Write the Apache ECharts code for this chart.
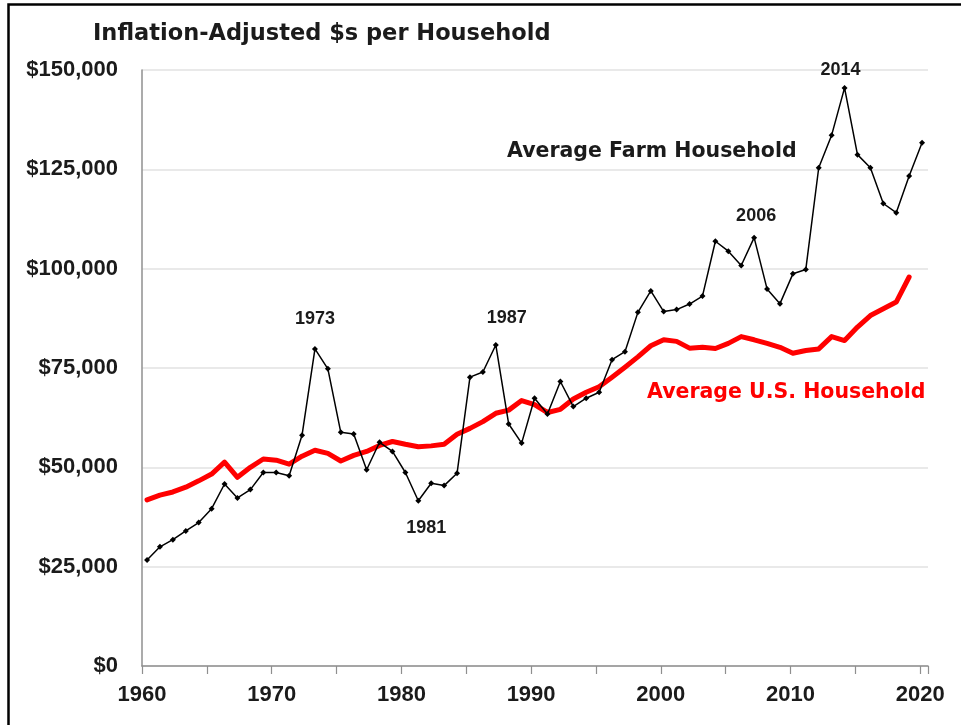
<!DOCTYPE html>
<html>
<head>
<meta charset="utf-8">
<script src="https://cdn.jsdelivr.net/npm/echarts@6/dist/echarts.min.js"></script>
<style>
  html, body { margin: 0; padding: 0; background: #ffffff; }
  #chart { width: 961px; height: 725px; }
</style>
</head>
<body>
<div id="chart"></div>
<script>
// ---- Data ----
const years = [1960,1961,1962,1963,1964,1965,1966,1967,1968,1969,
               1970,1971,1972,1973,1974,1975,1976,1977,1978,1979,
               1980,1981,1982,1983,1984,1985,1986,1987,1988,1989,
               1990,1991,1992,1993,1994,1995,1996,1997,1998,1999,
               2000,2001,2002,2003,2004,2005,2006,2007,2008,2009,
               2010,2011,2012,2013,2014,2015,2016,2017,2018,2019,
               2020];
const farmHousehold = [26700,30000,31800,34000,36100,39600,45800,42300,44400,48700,
                       48700,47900,58100,79800,74800,58800,58400,49400,56300,54000,
                       48700,41600,46000,45400,48500,72700,74000,80800,60900,56100,
                       67400,63400,71600,65300,67400,68900,77100,79100,89000,94400,
                       89200,89700,91100,93100,106900,104400,100800,107800,94900,91200,
                       98700,99800,125400,133600,145500,128700,125400,116400,114100,123300,
                       131700];
const usHousehold = [41800,43000,43800,45000,46600,48300,51300,47500,50000,52100,
                     51800,50800,52800,54300,53500,51600,53000,54000,55500,56500,
                     55800,55200,55400,55800,58300,59800,61500,63600,64400,66800,
                     65800,63800,64600,67200,68900,70300,72700,75200,77800,80600,
                     82100,81700,80000,80200,79900,81200,82900,82100,81200,80200,
                     78700,79400,79800,82900,81900,85300,88200,89900,91600,97900];
const yTicks = [0,25000,50000,75000,100000,125000,150000];
const xTickLabels = [1960,1970,1980,1990,2000,2010,2020];
const annotations = [
  {year:1973, text:'1973'},
  {year:1981, text:'1981'},
  {year:1987, text:'1987'},
  {year:2007, text:'2006'},
  {year:2014, text:'2014'}
];
const titleText = 'Inflation-Adjusted $s per Household';
const farmName = 'Average Farm Household';
const usName = 'Average U.S. Household';

// ---- Styles (kept apart from data) ----
const annoStyle = {
  1973: {position:'top', offset:[0,-13]},
  1981: {position:'bottom', offset:[8,10]},
  1987: {position:'top', offset:[11,-10]},
  2007: {position:'top', offset:[2,-5]},
  2014: {position:'top', offset:[-4,-1]}
};

const numFont = 'Liberation Sans, Arial, sans-serif';
const textFont = 'DejaVu Sans, sans-serif';
const ink = '#1b1b1b';

function fmtMoney(v){ return '$' + Math.round(v).toLocaleString('en-US'); }

const farmData = years.map((y,i) => {
  const a = annotations.find(n => n.year === y);
  const item = {value:[y, farmHousehold[i]]};
  if (a) {
    const s = annoStyle[y];
    item.label = {
      show:true, formatter:a.text, position:s.position, offset:s.offset,
      fontFamily:numFont, fontWeight:'bold', fontSize:18, color:ink
    };
  }
  return item;
});
const usData = usHousehold.map((v,i) => [years[i], v]);

const chart = echarts.init(document.getElementById('chart'), null, {renderer:'canvas'});
chart.setOption({
  animation:false,
  backgroundColor:'#ffffff',
  title:{
    text:titleText, left:93, top:23, padding:0,
    textStyle:{fontFamily:textFont, fontWeight:'bold', fontSize:22.5, color:ink}
  },
  grid:{left:142, right:33, top:70, bottom:59, containLabel:false},
  xAxis:[
    {
      type:'value', min:1960, max:2020.6, interval:5,
      axisLine:{show:true, lineStyle:{color:'#8f8f8f', width:1.5}},
      axisTick:{show:true, length:8, lineStyle:{color:'#8f8f8f', width:1.2}},
      splitLine:{show:false},
      axisLabel:{
        margin:18, fontFamily:numFont, fontWeight:'bold', fontSize:22, color:ink,
        formatter: v => xTickLabels.indexOf(v) >= 0 ? String(v) : ''
      }
    },
    {
      type:'value', min:1959.61, max:2020.46, show:false,
      axisLine:{show:false}, axisTick:{show:false}, axisLabel:{show:false}, splitLine:{show:false}
    }
  ],
  yAxis:{
    type:'value', min:yTicks[0], max:yTicks[yTicks.length-1], interval:25000,
    axisLine:{show:true, lineStyle:{color:'#8f8f8f', width:1.5}},
    axisTick:{show:false},
    splitLine:{show:true, lineStyle:{color:'#e2e2e2', width:1.5}},
    axisLabel:{margin:24, fontFamily:numFont, fontWeight:'bold', fontSize:22, color:ink, formatter:fmtMoney}
  },
  series:[
    {
      name:usName, type:'line', xAxisIndex:1, data:usData,
      showSymbol:false, symbol:'none',
      lineStyle:{color:'#ff0000', width:5, join:'round', cap:'round'},
      z:2
    },
    {
      name:farmName, type:'line', xAxisIndex:1, data:farmData,
      symbol:'diamond', symbolSize:6, showSymbol:true,
      itemStyle:{color:'#000000'},
      lineStyle:{color:'#000000', width:1.5},
      z:3
    }
  ],
  graphic:[
    {type:'rect', shape:{x:8.5, y:4.5, width:2000, height:2000}, style:{fill:'none', stroke:'#000', lineWidth:2.5}, silent:true},
    {type:'text', x:507, y:152, style:{text:farmName, fontFamily:textFont, fontWeight:'bold', fontSize:20.5, fill:ink, textVerticalAlign:'middle'}},
    {type:'text', x:647, y:393, style:{text:usName, fontFamily:textFont, fontWeight:'bold', fontSize:20.5, fill:'#ff0000', textVerticalAlign:'middle'}}
  ]
});
</script>
</body>
</html>
